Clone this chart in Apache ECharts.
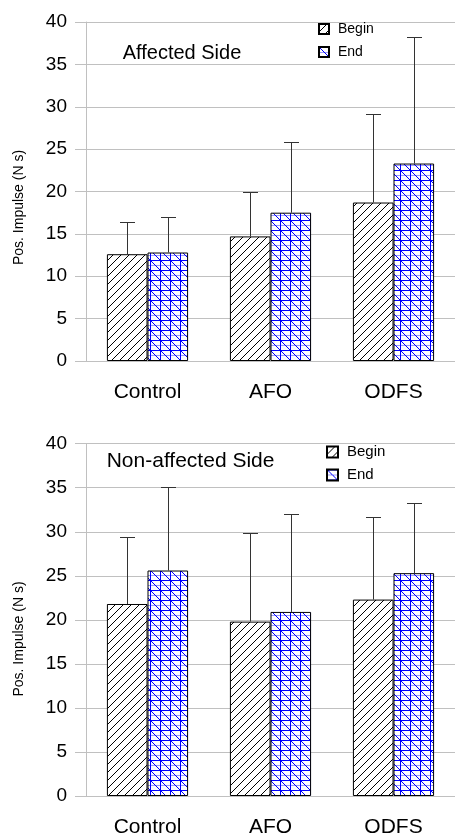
<!DOCTYPE html>
<html>
<head>
<meta charset="utf-8">
<script src="https://cdn.jsdelivr.net/npm/echarts@6/dist/echarts.min.js"></script>
<style>
html,body{margin:0;padding:0;background:#fff;}
#chart{width:455px;height:838px;}
</style>
</head>
<body>
<div id="chart"></div>
<script>
// ---- data ----
const categories = ['Control', 'AFO', 'ODFS'];
const seriesNames = ['Begin', 'End'];
const affectedBegin = [12.6, 14.7, 18.7];
const affectedBeginSD = [3.8, 5.3, 10.5];
const affectedEnd = [12.8, 17.5, 23.3];
const affectedEndSD = [4.2, 8.3, 14.9];
const nonAffBegin = [21.8, 19.8, 22.3];
const nonAffBeginSD = [7.6, 10.1, 9.4];
const nonAffEnd = [25.6, 20.9, 25.3];
const nonAffEndSD = [9.5, 11.1, 8.0];
const yTicks = { min: 0, max: 40, interval: 5 };
const panelTitles = ['Affected Side', 'Non-affected Side'];
const yAxisTitle = 'Pos. Impulse (N s)';

// ---- patterns ----
function beginPattern() {
  const s = 8, c = document.createElement('canvas');
  c.width = s; c.height = s;
  const g = c.getContext('2d');
  g.fillStyle = '#fff'; g.fillRect(0, 0, s, s);
  g.strokeStyle = '#000'; g.lineWidth = 1;
  g.beginPath();
  g.moveTo(-1, s + 1); g.lineTo(s + 1, -1);
  g.moveTo(-1, 1); g.lineTo(1, -1);
  g.moveTo(s - 1, s + 1); g.lineTo(s + 1, s - 1);
  g.stroke();
  return { image: c, repeat: 'repeat' };
}
function endPattern() {
  const s = 10, c = document.createElement('canvas');
  c.width = s; c.height = s;
  const g = c.getContext('2d');
  g.fillStyle = '#fff'; g.fillRect(0, 0, s, s);
  g.strokeStyle = '#9a9aff'; g.lineWidth = 1;
  g.beginPath(); g.moveTo(0, 5.5); g.lineTo(s, 5.5); g.stroke();
  g.strokeStyle = '#0000ff';
  g.beginPath();
  g.moveTo(0.5, 0); g.lineTo(0.5, s);
  g.moveTo(0, 0.5); g.lineTo(s, 0.5);
  g.moveTo(-1, -1); g.lineTo(s + 1, s + 1);
  g.stroke();
  return { image: c, repeat: 'repeat' };
}
const patBegin = beginPattern();
const patEnd = endPattern();

const BARW = 0.33;
const gridColor = '#c0c0c0';

function errData(means, sds) {
  return means.map((m, i) => [i, m, m + sds[i]]);
}
function makeErr(gridIdx, means, sds, side) {
  return {
    type: 'custom',
    xAxisIndex: gridIdx, yAxisIndex: gridIdx,
    z: 5, silent: true,
    data: errData(means, sds),
    renderItem: function (params, api) {
      const band = api.size([1, 0])[0];
      const off = side * band * BARW / 2;
      const p0 = api.coord([api.value(0), api.value(1)]);
      const p1 = api.coord([api.value(0), api.value(2)]);
      const x = Math.round(p0[0] + off) + 0.5;
      const yb = p0[1], yt = Math.round(p1[1]) + 0.5;
      const st = { stroke: '#333', lineWidth: 1 };
      return {
        type: 'group',
        children: [
          { type: 'line', shape: { x1: x, y1: yb, x2: x, y2: yt }, style: st },
          { type: 'line', shape: { x1: x - 7.5, y1: yt, x2: x + 7.5, y2: yt }, style: st }
        ]
      };
    }
  };
}
function bar(gridIdx, name, data, pat) {
  return {
    type: 'bar', name: name, xAxisIndex: gridIdx, yAxisIndex: gridIdx,
    data: data, barWidth: (BARW * 100) + '%', barGap: '0%',
    itemStyle: { color: pat, borderColor: '#000', borderWidth: 1 },
    emphasis: { disabled: true }
  };
}
function xAx(gridIdx) {
  return {
    type: 'category', gridIndex: gridIdx, data: categories,
    axisLine: { lineStyle: { color: gridColor } },
    axisTick: { length: 11, lineStyle: { color: gridColor } },
    axisLabel: { fontSize: 21, fontFamily: 'Liberation Sans', color: '#000', margin: 21 }
  };
}
function yAx(gridIdx) {
  return {
    type: 'value', gridIndex: gridIdx, min: yTicks.min, max: yTicks.max, interval: yTicks.interval,
    axisLine: { show: true, lineStyle: { color: gridColor } },
    axisTick: { show: true, length: 11, lineStyle: { color: gridColor } },
    splitLine: { lineStyle: { color: gridColor } },
    axisLabel: { fontSize: 19, fontFamily: 'Liberation Sans', color: '#000', margin: 19, padding: [4, 0, 0, 0] }
  };
}
function legend(left, top, gap, fs, iw) {
  return {
    data: seriesNames, orient: 'vertical', left: left, top: top, padding: 0,
    itemWidth: iw, itemHeight: iw, itemGap: gap, icon: 'rect',
    selectedMode: false,
    textStyle: { fontSize: fs, fontFamily: 'Liberation Sans', color: '#000', padding: [0, 0, 0, 4] }
  };
}

const chart = echarts.init(document.getElementById('chart'), null, { renderer: 'canvas' });
chart.setOption({
  animation: false,
  backgroundColor: '#fff',
  grid: [
    { left: 86, top: 22, width: 376.5, height: 339 },
    { left: 86, top: 443.7, width: 384.6, height: 353 }
  ],
  xAxis: [xAx(0), xAx(1)],
  yAxis: [yAx(0), yAx(1)],
  legend: [legend(318, 22, 9, 14, 10), legend(326, 444.5, 8, 15, 11)],
  series: [
    bar(0, 'Begin', affectedBegin, patBegin),
    bar(0, 'End', affectedEnd, patEnd),
    bar(1, 'Begin', nonAffBegin, patBegin),
    bar(1, 'End', nonAffEnd, patEnd),
    makeErr(0, affectedBegin, affectedBeginSD, -1),
    makeErr(0, affectedEnd, affectedEndSD, 1),
    makeErr(1, nonAffBegin, nonAffBeginSD, -1),
    makeErr(1, nonAffEnd, nonAffEndSD, 1)
  ],
  graphic: [
    { type: 'text', x: 122.7, y: 53.3, style: { text: panelTitles[0], fontSize: 20, fontFamily: 'Liberation Sans', fill: '#000', verticalAlign: 'middle' } },
    { type: 'text', x: 106.7, y: 461.3, style: { text: panelTitles[1], fontSize: 21, fontFamily: 'Liberation Sans', fill: '#000', verticalAlign: 'middle' } },
    { type: 'text', x: 19, y: 207.5, rotation: Math.PI / 2, style: { text: yAxisTitle, fontSize: 14, fontFamily: 'Liberation Sans', fill: '#000', align: 'center', verticalAlign: 'middle' } },
    { type: 'text', x: 19, y: 639, rotation: Math.PI / 2, style: { text: yAxisTitle, fontSize: 14, fontFamily: 'Liberation Sans', fill: '#000', align: 'center', verticalAlign: 'middle' } }
  ]
});
</script>
</body>
</html>
